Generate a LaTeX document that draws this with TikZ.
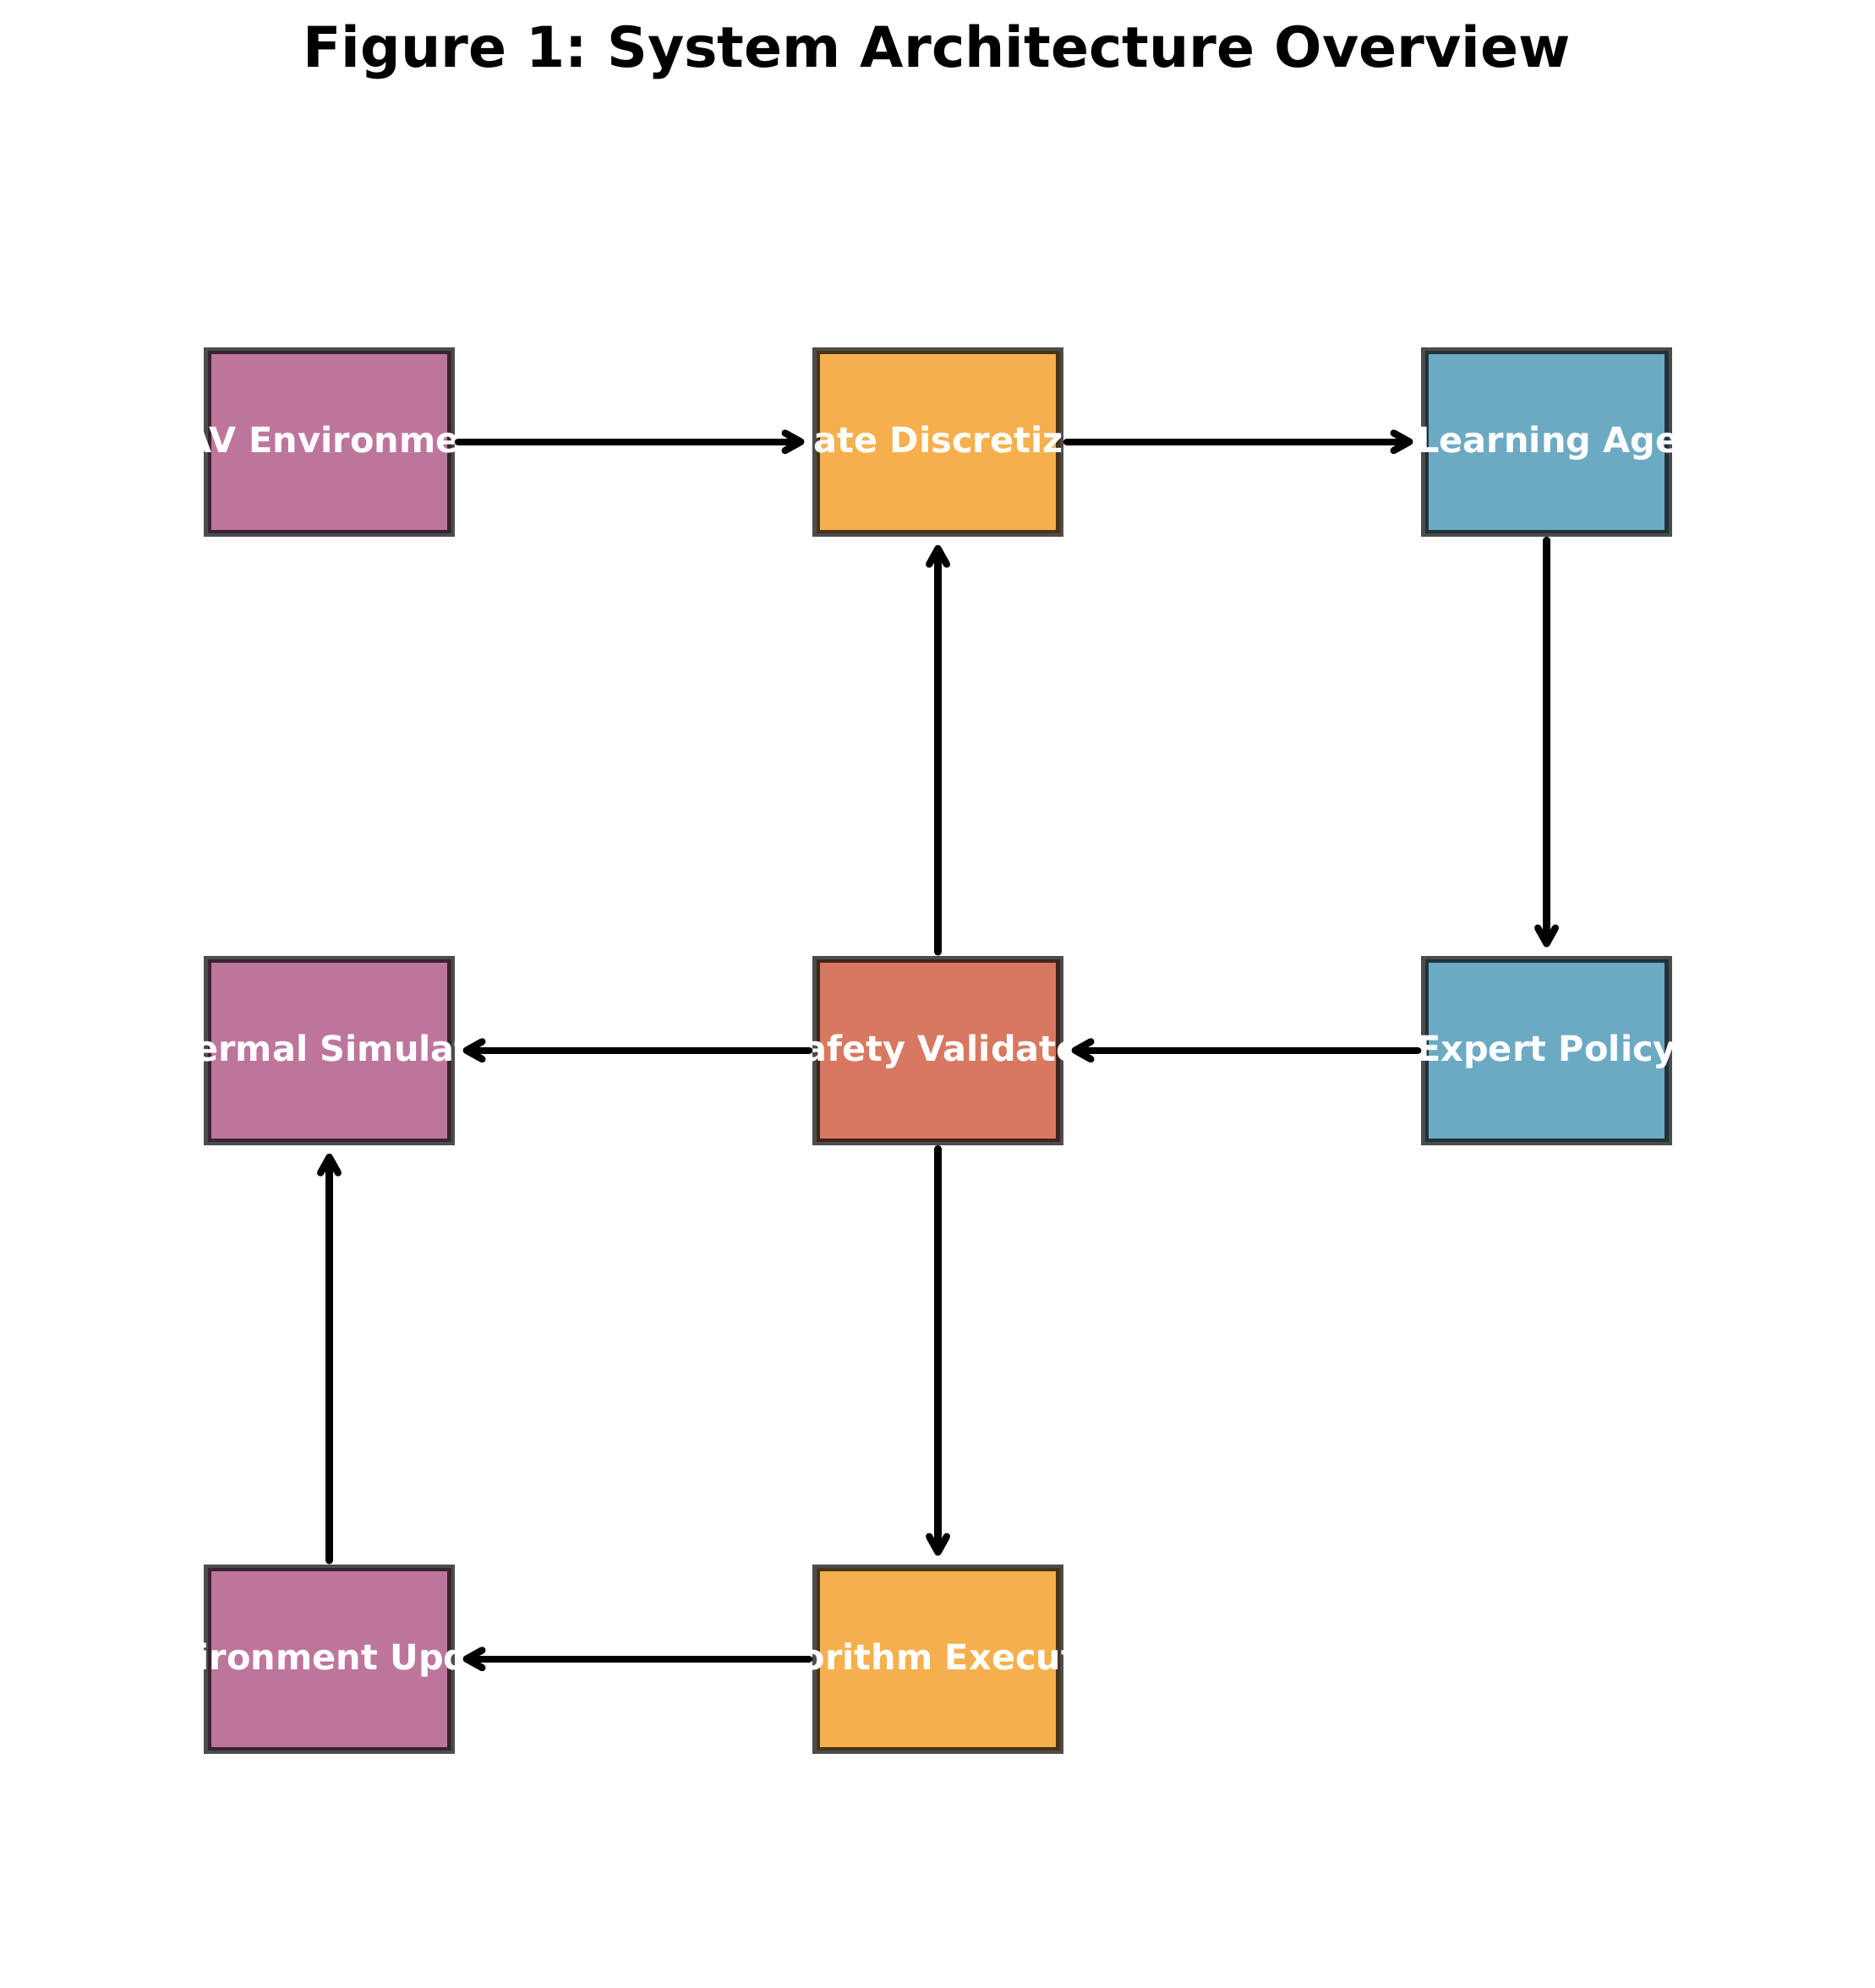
\documentclass[tikz,border=0pt]{standalone}
\usepackage{fontspec}
\setmainfont{DejaVu Sans}
\usetikzlibrary{arrows.meta,positioning}
\definecolor{mauve}{HTML}{A23B72}
\definecolor{amber}{HTML}{F18F01}
\definecolor{steel}{HTML}{2E86AB}
\definecolor{brick}{HTML}{C73E1D}
\frenchspacing

\begin{document}
\begin{tikzpicture}[x=2.032cm,y=2.032cm,>={Straight Barb[length=4.5pt,width=5pt,round]},
  node distance=4.2672cm and 3.6576cm,
  box/.style={draw=black,line width=2pt,draw opacity=0.7,fill opacity=0.7,text opacity=1,text=white,
    minimum width=2.4384cm,minimum height=1.8288cm,inner sep=0pt,outer sep=0pt,
    text height=0.8em,text depth=0.2em,font=\bfseries\fontsize{10}{12}\selectfont},
  flow/.style={->,line width=2pt,line cap=round,shorten <=2pt,shorten >=3.4pt}]

  \useasboundingbox (0,0) rectangle (9.2417,9.8);
  \node[font=\bfseries\fontsize{16}{19}\selectfont,anchor=base] (title) at (4.617,9.467) {Figure 1: System Architecture Overview};

  % top row
  \node[box,fill=mauve] (uav) at (1.623,7.622) {\makebox[0pt]{UAV Environment}};
  \node[box,fill=amber,right=of uav] (disc) {\makebox[0pt]{State Discretizer}};
  \node[box,fill=steel,right=of disc] (agent) {\makebox[0pt]{Q-Learning Agent}};

  % middle row
  \node[box,fill=mauve,below=of uav] (thermal) {\makebox[0pt]{Thermal Simulator}};
  \node[box,fill=brick,below=of disc] (safety) {\makebox[0pt]{Safety Validator}};
  \node[box,fill=steel,below=of agent] (expert) {\makebox[0pt]{Expert Policy}};

  % bottom row
  \node[box,fill=mauve,below=of thermal] (update) {\makebox[0pt]{Environment Update}};
  \node[box,fill=amber,below=of safety] (exec) {\makebox[0pt]{Algorithm Execution}};

  \draw[flow] (uav) -- (disc);
  \draw[flow] (disc) -- (agent);
  \draw[flow] (agent) -- (expert);
  \draw[flow] (expert) -- (safety);
  \draw[flow] (safety) -- (disc);
  \draw[flow] (safety) -- (thermal);
  \draw[flow] (safety) -- (exec);
  \draw[flow] (exec) -- (update);
  \draw[flow] (update) -- (thermal);
\end{tikzpicture}
\end{document}
